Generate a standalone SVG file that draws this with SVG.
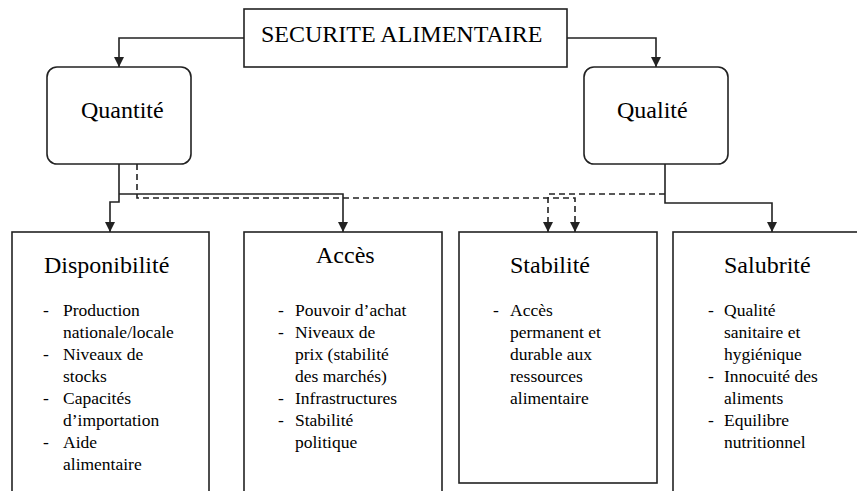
<svg xmlns="http://www.w3.org/2000/svg" width="857" height="491" viewBox="0 0 857 491">
<style>
.box{fill:#fff;stroke:#222;stroke-width:1.6}
.ln{fill:none;stroke:#222;stroke-width:1.6}
.dash{fill:none;stroke:#222;stroke-width:1.6;stroke-dasharray:6 4}
.t{fill:#000}
.h{font-size:24px}
.i{font-size:17.5px}
</style>
<defs>
<marker id="ah" viewBox="0 0 10 10" refX="10" refY="5" markerWidth="10" markerHeight="10" markerUnits="userSpaceOnUse" orient="auto">
<path d="M0,0 L10,5 L0,10 z" fill="#222"/>
</marker>
</defs>
<g id="connectors">
<path class="ln" d="M244,38 H119 V67" marker-end="url(#ah)"/>
<path class="ln" d="M567,38 H656 V67" marker-end="url(#ah)"/>
<path class="ln" d="M119,164 V202 H110 V232" marker-end="url(#ah)"/>
<path class="ln" d="M119,194 H343 V232" marker-end="url(#ah)"/>
<path class="ln" d="M665,164 V203 H772 V232" marker-end="url(#ah)"/>
<path class="dash" d="M137,164 V198 H575 V232" marker-end="url(#ah)"/>
<path class="dash" d="M665,194 H548 V232" marker-end="url(#ah)"/>
</g>
<g font-family="'Liberation Serif', 'DejaVu Serif', serif">
<g id="securite">
<rect class="box" x="244" y="9" width="323" height="58"/>
<text class="t h" x="261" y="42">SECURITE ALIMENTAIRE</text>
</g>
<g id="quantite">
<rect class="box" x="47" y="67" width="144" height="97" rx="10"/>
<text class="t h" x="81" y="118">Quantité</text>
</g>
<g id="qualite">
<rect class="box" x="584" y="67" width="144" height="97" rx="10"/>
<text class="t h" x="617" y="118">Qualité</text>
</g>
<g id="disponibilite">
<rect class="box" x="12" y="232" width="197" height="270"/>
<text class="t h" x="44" y="273">Disponibilité</text>
<g class="t i">
<text x="43" y="316">-</text><text x="63" y="316">Production</text>
<text x="63" y="338">nationale/locale</text>
<text x="43" y="360">-</text><text x="63" y="360">Niveaux de</text>
<text x="63" y="382">stocks</text>
<text x="43" y="404">-</text><text x="63" y="404">Capacités</text>
<text x="63" y="426">d’importation</text>
<text x="43" y="448">-</text><text x="63" y="448">Aide</text>
<text x="63" y="470">alimentaire</text>
</g>
</g>
<g id="acces">
<rect class="box" x="244" y="232" width="198" height="270"/>
<text class="t h" x="316" y="263">Accès</text>
<g class="t i">
<text x="278" y="316">-</text><text x="295" y="316">Pouvoir d’achat</text>
<text x="278" y="338">-</text><text x="295" y="338">Niveaux de</text>
<text x="295" y="360">prix (stabilité</text>
<text x="295" y="382">des marchés)</text>
<text x="278" y="404">-</text><text x="295" y="404">Infrastructures</text>
<text x="278" y="426">-</text><text x="295" y="426">Stabilité</text>
<text x="295" y="448">politique</text>
</g>
</g>
<g id="stabilite">
<rect class="box" x="459" y="232" width="198" height="251"/>
<text class="t h" x="510" y="273">Stabilité</text>
<g class="t i">
<text x="493" y="316">-</text><text x="510" y="316">Accès</text>
<text x="510" y="338">permanent et</text>
<text x="510" y="360">durable aux</text>
<text x="510" y="382">ressources</text>
<text x="510" y="404">alimentaire</text>
</g>
</g>
<g id="salubrite">
<rect class="box" x="673" y="232" width="200" height="270"/>
<text class="t h" x="724" y="273">Salubrité</text>
<g class="t i">
<text x="708" y="316">-</text><text x="724" y="316">Qualité</text>
<text x="724" y="338">sanitaire et</text>
<text x="724" y="360">hygiénique</text>
<text x="708" y="382">-</text><text x="724" y="382">Innocuité des</text>
<text x="724" y="404">aliments</text>
<text x="708" y="426">-</text><text x="724" y="426">Equilibre</text>
<text x="724" y="448">nutritionnel</text>
</g>
</g>
</g>
</svg>
